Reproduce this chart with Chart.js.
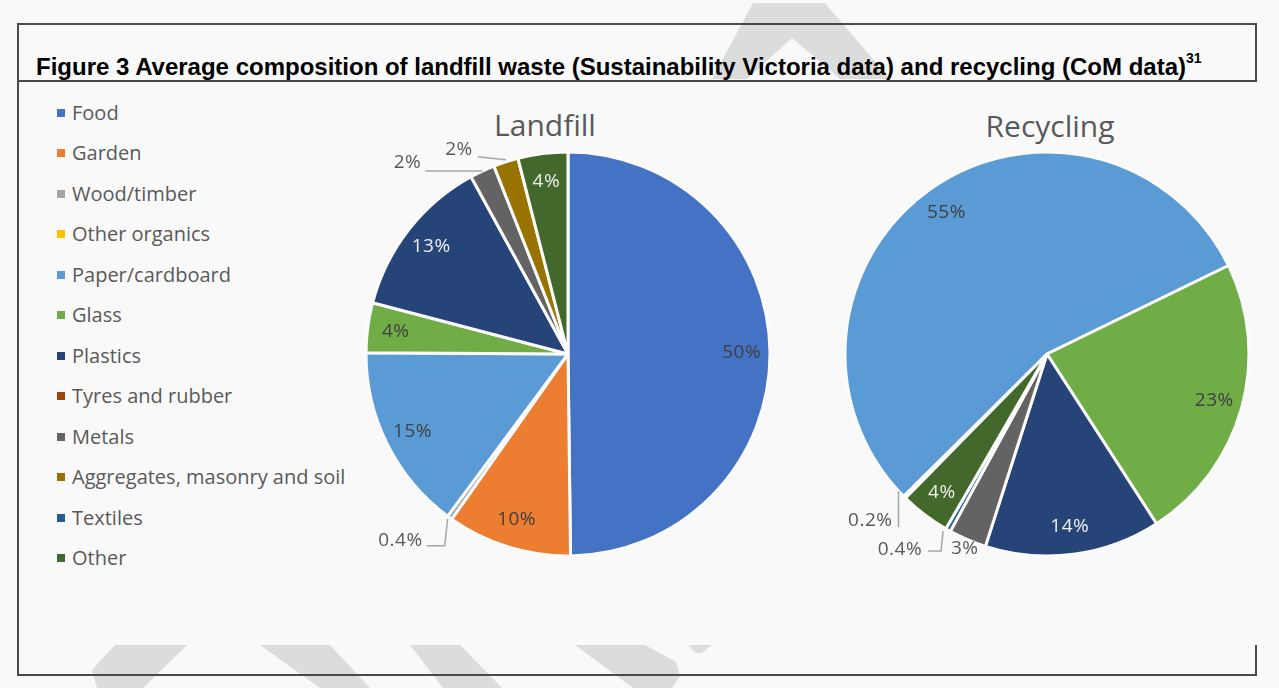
<!DOCTYPE html>
<html>
<head>
<meta charset="utf-8">
<script src="https://cdn.jsdelivr.net/npm/chart.js@4.4.1/dist/chart.umd.min.js"></script>
<style>
  body { margin: 0; background: #f9f9f9; width: 1279px; height: 688px; position: relative; overflow: hidden; font-family: 'Open Sans', Lato, sans-serif; }
  #mark { position: absolute; left: 0; top: 0; }
  .line { position: absolute; background: #4a4a4a; }
  #title { position: absolute; left: 36px; top: 53px; font: bold 24px 'Liberation Sans', Arial, sans-serif; line-height: 28px; color: #000; white-space: nowrap; }
  #title sup { font-size: 14px; line-height: 0; vertical-align: baseline; position: relative; top: -12px; }
  #legend { position: absolute; left: 57px; top: 0; }
  .item { position: absolute; left: 0; white-space: nowrap; font-size: 20px; color: #595959; line-height: 24px; }
  .item span { display: inline-block; width: 8px; height: 8px; margin-right: 7px; vertical-align: 3px; }
  .pieTitle { position: absolute; font-size: 30px; color: #595959; line-height: 32px; transform: translateX(-50%); white-space: nowrap; }
  canvas { position: absolute; }
</style>
</head>
<body>
<svg id="mark" width="1279" height="688">
  <g fill="#dcdcdc">
    <polygon points="753,3 825,3 890,79 840,79 792,38 747,79 712,79"/>
    <polygon points="115,645 187,645 143,688 97,688 92,670"/>
    <polygon points="260,645 330,645 370,688 320,688"/>
    <polygon points="410,645 460,645 502,688 443,688"/>
    <polygon points="575,645 645,645 676,662 680,676 672,688 633,688"/>
    <polygon points="688,645 712,645 702,653 696,653"/>
  </g>
</svg>
<div class="line" style="left:17px;top:23px;width:1240px;height:2px"></div>
<div class="line" style="left:17px;top:23px;width:2px;height:653px"></div>
<div class="line" style="left:1255px;top:23px;width:2px;height:58px"></div>
<div class="line" style="left:17px;top:80px;width:1240px;height:2px"></div>
<div class="line" style="left:17px;top:674px;width:1240px;height:2px"></div>
<div class="line" style="left:1255px;top:645px;width:2px;height:31px"></div>
<div id="title">Figure 3 Average composition of landfill waste (Sustainability Victoria data) and recycling (CoM data)<sup>31</sup></div>
<div id="legend"></div>
<div class="pieTitle" style="left:545px;top:109px">Landfill</div>
<div class="pieTitle" style="left:1050px;top:110px">Recycling</div>
<canvas id="landfill" width="460" height="460" style="left:338px;top:124px"></canvas>
<canvas id="recycling" width="460" height="460" style="left:817px;top:124px"></canvas>
<script>
'use strict';
// data
var categories = ['Food', 'Garden', 'Wood/timber', 'Other organics', 'Paper/cardboard', 'Glass', 'Plastics', 'Tyres and rubber', 'Metals', 'Aggregates, masonry and soil', 'Textiles', 'Other'];
var colours = ['#4472C4', '#ED7D31', '#A5A5A5', '#FFC000', '#5B9BD5', '#70AD47', '#264478', '#9E480E', '#636363', '#997300', '#255E91', '#43682B'];
var landfillValues = [50, 10, 0.4, 0, 15, 4, 13, 0, 2, 2, 0, 4];
var recyclingValues = [0, 0, 0.2, 0, 55, 23, 14, 0, 3, 0, 0.4, 4];

// where the small slices put their label (offsets from the slice edge)
var callouts = {
  landfill: {
    'Wood/timber': { line: [[-2, 1], [-5, 28], [-23, 28]], text: [-27, 23] },
    'Metals': { line: [[0, 0], [-57, 0]], text: [-61, -8] },
    'Aggregates, masonry and soil': { line: [[0, -2], [-28, -5]], text: [-33, -12] }
  },
  recycling: {
    'Wood/timber': { line: [[-6, -6], [-6, 30]], text: [-12, 23] },
    'Metals': { line: [], text: [11, 9] },
    'Textiles': { line: [[-5, 1], [-7, 21], [-20, 21]], text: [-26, 19] }
  }
};

// legend
var legend = document.getElementById('legend');
for (var i = 0; i < categories.length; i++) {
  var item = document.createElement('div');
  item.className = 'item';
  item.style.top = (101 + i * 40.45) + 'px';
  item.innerHTML = '<span style="background:' + colours[i] + '"></span>' + categories[i];
  legend.appendChild(item);
}

function darkColour(hex) {
  var r = parseInt(hex.substr(1, 2), 16);
  var g = parseInt(hex.substr(3, 2), 16);
  var b = parseInt(hex.substr(5, 2), 16);
  return (0.299 * r + 0.587 * g + 0.114 * b) / 255 < 0.38;
}

// labels plugin
var pieLabels = {
  id: 'pieLabels',
  afterDatasetsDraw: function (chart) {
    var ctx = chart.ctx;
    var meta = chart.getDatasetMeta(0);
    var values = chart.data.datasets[0].data;
    var spots = callouts[chart.canvas.id];
    ctx.save();
    ctx.font = '19px "Open Sans", Lato, sans-serif';
    ctx.letterSpacing = '0.5px';
    ctx.textBaseline = 'middle';
    meta.data.forEach(function (arc, k) {
      var v = values[k];
      if (!v) return;
      var p = arc.getProps(['x', 'y', 'startAngle', 'endAngle', 'outerRadius'], true);
      var mid = (p.startAngle + p.endAngle) / 2;
      var text = v + '%';
      var spot = spots[chart.data.labels[k]];
      if (spot) {
        var ax = p.x + Math.cos(mid) * p.outerRadius;
        var ay = p.y + Math.sin(mid) * p.outerRadius;
        if (spot.line.length) {
          ctx.strokeStyle = '#a6a6a6';
          ctx.lineWidth = 1.5;
          ctx.beginPath();
          spot.line.forEach(function (pt, n) {
            if (n === 0) ctx.moveTo(ax + pt[0], ay + pt[1]);
            else ctx.lineTo(ax + pt[0], ay + pt[1]);
          });
          ctx.stroke();
        }
        ctx.fillStyle = '#595959';
        ctx.textAlign = 'right';
        ctx.fillText(text, ax + spot.text[0], ay + spot.text[1]);
      } else {
        var r = p.outerRadius * 0.86;
        ctx.fillStyle = darkColour(colours[k]) ? '#eeeeee' : '#404040';
        ctx.textAlign = 'center';
        ctx.fillText(text, p.x + Math.cos(mid) * r, p.y + Math.sin(mid) * r);
      }
    });
    ctx.restore();
  }
};

function pieChart(id, values, rotation) {
  var place = document.getElementById(id).getContext('2d');
  return new Chart(place, {
    type: 'pie',
    data: {
      labels: categories,
      datasets: [{
        data: values,
        backgroundColor: colours,
        borderColor: '#fbfbfb',
        borderWidth: 3
      }]
    },
    options: {
      responsive: false,
      animation: false,
      rotation: rotation,
      radius: 202,
      layout: { padding: 0 },
      plugins: {
        legend: { display: false },
        tooltip: { enabled: false }
      }
    },
    plugins: [pieLabels]
  });
}

pieChart('landfill', landfillValues, 0);
pieChart('recycling', recyclingValues, 224.5);
</script>
</body>
</html>
